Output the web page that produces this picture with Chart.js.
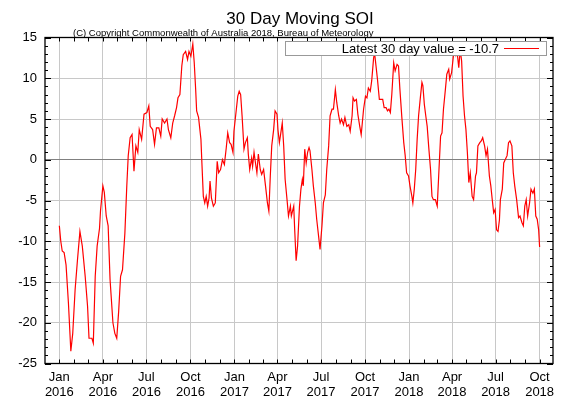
<!DOCTYPE html>
<html><head><meta charset="utf-8">
<script src="https://cdn.jsdelivr.net/npm/chart.js@4"></script>
<style>html,body{margin:0;padding:0;background:#fff}#w{width:576px;height:403px}</style>
</head><body><div id="w"><canvas id="c"></canvas></div>
<script>
// day offsets from 1 Jan 2016
const days = [0,3,6,10,14,19,24,28,33,38,43,48,54,59,62,68,71,75,79,84,86,91,94,98,102,106,112,116,120,124,128,132,137,141,144,148,152,156,160,164,167,172,177,183,187,190,195,199,203,208,212,215,220,225,228,233,237,241,245,248,252,256,259,264,268,271,275,279,282,285,287,291,296,298,301,304,307,310,313,315,318,322,326,330,333,337,341,345,349,352,356,359,363,365,370,373,376,379,382,386,389,393,395,398,402,404,407,410,413,416,420,423,427,431,435,438,441,444,448,451,455,457,460,463,466,469,472,476,479,483,485,490,492,495,498,
502,505,508,510,513,516,519,522,524,528,531,535,538,542,545,549,552,556,559,563,566,570,573,577,580,584,587,590,594,597,601,605,608,612,614,617,621,624,628,631,633,636,640,643,646,650,653,657,659,662,665,669,672,676,679,683,686,689,692,695,699,702,706,709,712,716,720,723,726,730,733,737,739,742,745,748,751,755,758,760,763,766,769,772,776,779,782,786,790,793,797,800,803,807,810,814,816,820,823,826,829,831,835,838,841,844,847,850,853,856,859,863,866,870,872,875,879,882,885,889,892,895,899,902,905,908,911,914,917,920,922,926,929,932,936,939,942,946,949,952,956,960,963,967,970,973,976,979,983,986,990,993,996,999,1002,1004];
const soi = [-8.1,-10,-11.2,-11.4,-12.9,-17.6,-23.5,-21.3,-15.9,-12.2,-8.8,-10.6,-14.3,-18,-21.9,-21.9,-22.5,-14.3,-10.6,-8.4,-6.3,-3.2,-4,-6.9,-8.1,-14.7,-20,-21.3,-21.9,-18.6,-14.3,-13.5,-9,-3.2,0.5,2.7,3.1,-1.4,1.7,0.9,3.7,2.5,5.6,5.8,6.6,4.1,3.7,1.9,3.9,3.9,2.9,5,4.5,5,3.7,2.7,4.5,5.4,6.4,7.6,8,11.5,12.9,13.3,12.3,13.3,12.7,14.2,11.9,8.6,6,5.2,2.5,-0.4,-4.5,-5.3,-4.5,-5.7,-4.7,-2.6,-4.7,-5.7,-5.3,-0.2,-1.6,-1.2,0,-0.6,1.5,3.3,2.1,1.9,0.9,3.5,6.2,7.8,8.4,8,5.4,1.3,2.1,2.7,0.7,-1.2,0.2,-0.8,0.9,-0.4,-1.6,0.7,-1.2,-1.8,-1.2,-3.2,-5.3,-6.3,-2,1.7,3.7,6,5.6,3.7,2.1,3.3,4.5,1.7,-2.4,-4.9,-6.9,-5.7,-6.9,-5.7,-8.6,-12.4,-10.6,
-5.7,-3.6,-2.4,-3.2,1.3,-0.4,0.9,1.5,1.1,-1.2,-3.2,-5.3,-7.3,-9.4,-11,-8.1,-5.3,-4.3,-1.2,1.7,5.4,6.2,6.2,8.6,7,5.4,4.5,5,4.3,5.2,4.1,4.3,3.5,5.4,7.6,7.2,7.4,5.6,4.1,3.1,4.3,6.2,7.8,7.6,8.8,8.4,9.7,12.5,13.1,11.5,9.9,7.4,7.4,7.4,6.4,6.4,6,6.2,5.8,8,11.9,10.9,11.7,11.5,8.6,5.2,2.1,0.5,-1.6,-2,-3.2,-4.5,-5.3,-3.6,-1.2,2.5,5.4,7.8,9.5,9.1,6.8,5.4,4.1,1.7,-1.2,-4.5,-4.9,-4.9,-5.7,-2,2.9,3.3,6.2,8.6,10.5,11.1,9.9,10.7,12.3,13.8,12.9,13.5,11.3,13.5,12.1,7.8,5.4,3.7,0.9,-2.8,-1.6,-4.5,-4.9,-2,-1.6,1.7,2.1,2.3,2.7,1.7,0.5,1.3,-2,-3.2,-4.9,-6.5,-6.1,-8.6,-8.8,-7.4,-4.9,-3.6,-0.4,0,0.5,2.1,2.3,1.7,-1.6,-3.2,-4.9,-7.1,-6.9,-7.7,-8.1,-5.7,-4.9,-6.9,-5.3,-3.6,-4.1,-3.6,-6.9,-7.3,-8.6,-10.7];
const monthNames = ['Jan','Apr','Jul','Oct'];
const yTicks = [-25,-20,-15,-10,-5,0,5,10,15];
const titleText = '30 Day Moving SOI';
const copyText = '(C) Copyright Commonwealth of Australia 2018, Bureau of Meteorology';
const legendText = 'Latest 30 day value = -10.7';

const base = Date.UTC(2016,0,1);
const monthTicks = [];
for (let m = -1; m <= 34; m++) monthTicks.push(Math.round((Date.UTC(2016,m,1)-base)/86400000));
function labelFor(v){
  const idx = monthTicks.indexOf(v); const m = idx-1;
  if (m<0 || m%3) return '';
  return [monthNames[(m%12)/3], String(2016+Math.floor(m/12))];
}
const FONT = 'Liberation Sans, Arial, sans-serif';
const deco = {
  id:'deco',
  afterDraw(ch){
    const c = ch.ctx, a = ch.chartArea;
    c.save();
    c.fillStyle='#000'; c.textAlign='center'; c.textBaseline='alphabetic';
    c.font='17px '+FONT; c.fillText(titleText, 300, 24);
    c.font='9.5px '+FONT; c.textAlign='left'; c.fillText(copyText, 73, 36);
    // inner minor ticks
    c.strokeStyle='#000'; c.lineWidth=1;
    const xs=ch.scales.x, ys=ch.scales.y;
    monthTicks.forEach(v=>{ if(v<xs.min||v>xs.max) return; const x=Math.round(xs.getPixelForValue(v))+0.5;
      c.beginPath(); c.moveTo(x,a.bottom); c.lineTo(x,a.bottom-4); c.moveTo(x,a.top); c.lineTo(x,a.top+4); c.stroke();});
    for(let v=-25; v<=15; v+=1){ const y=Math.round(ys.getPixelForValue(v))+0.5; const L = v%5===0?6:3;
      c.beginPath(); c.moveTo(a.left,y); c.lineTo(a.left+L,y); c.moveTo(a.right,y); c.lineTo(a.right-L,y); c.stroke(); }
    // frame
    c.lineWidth=1.3; c.strokeRect(a.left, a.top, a.right-a.left, a.bottom-a.top);
    // legend
    c.fillStyle='#fff'; c.strokeStyle='#999'; c.lineWidth=1;
    c.fillRect(285.5,41.5,261,14); c.strokeRect(285.5,41.5,261,14);
    c.fillStyle='#000'; c.font='13px '+FONT; c.textAlign='right'; c.fillText(legendText, 499, 53);
    c.strokeStyle='#f00'; c.beginPath(); c.moveTo(504,48.5); c.lineTo(539,48.5); c.stroke();
    c.restore();
  }
};
new Chart(document.getElementById('c'), {
  type:'line',
  data:{ datasets:[{ data: days.map((d,i)=>({x:d,y:soi[i]})), borderColor:'#ff0000', borderWidth:1.2, pointRadius:0, tension:0 }]},
  options:{
    responsive:true, maintainAspectRatio:false, animation:false, devicePixelRatio:1,
    layout:{padding:{top:37.5,right:23,left:0,bottom:0}},
    plugins:{legend:{display:false}, tooltip:{enabled:false}},
    scales:{
      x:{ type:'linear', min:-30, max:1032,
        afterBuildTicks(s){ s.ticks = monthTicks.filter(v=>v>=-30&&v<=1032).map(v=>({value:v})); },
        afterFit(s){ s.height=39.5; },
        border:{display:false},
        grid:{ color:ctx=>{const l=labelFor(ctx.tick.value); return l?'#c8c8c8':'rgba(0,0,0,0)';}, drawTicks:false },
        ticks:{ autoSkip:false, maxRotation:0, padding:6, color:'#000', font:{family:FONT,size:13,lineHeight:1.2}, callback:v=>labelFor(v) }
      },
      y:{ min:-25, max:15,
        afterBuildTicks(s){ s.ticks = yTicks.map(v=>({value:v})); },
        afterFit(s){ s.width=45; },
        border:{display:false},
        grid:{ color:ctx=>ctx.tick.value===0?'#808080':'#c8c8c8', drawTicks:false },
        ticks:{ padding:8, color:'#000', font:{family:FONT,size:13} }
      }
    }
  },
  plugins:[deco]
});
</script></body></html>
